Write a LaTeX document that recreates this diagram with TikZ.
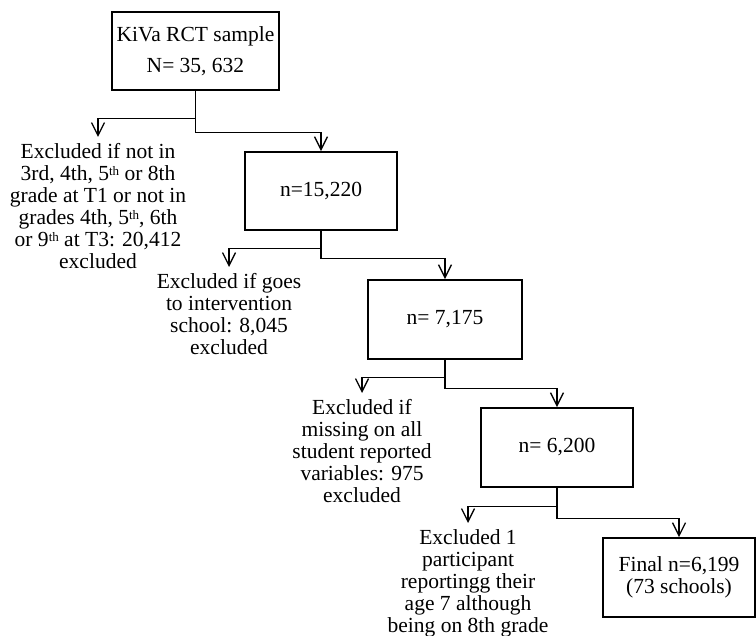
\documentclass[tikz,border=0pt]{standalone}
\usepackage{fontspec}
\setmainfont{Liberation Serif}
\usepackage{tikz}
\usetikzlibrary{arrows.meta,positioning}
\newcommand{\ordsup}[1]{\raisebox{0.5ex}{\fontsize{13}{13}\selectfont #1}}

\begin{document}
\begin{tikzpicture}[
    x=1pt, y=-1pt,
    every node/.style={font=\fontsize{21.5}{22}\selectfont},
    box/.style={draw=black, line width=1.7pt, minimum width=152pt, minimum height=78pt, align=center},
    excl/.style={anchor=north, align=center, inner xsep=0pt, inner ysep=6pt},
    line/.style={draw=black, line width=1.3pt, -{Straight Barb[length=13pt, width=13pt]}}
  ]
    \useasboundingbox (0,0) rectangle (756,636);

    % Nodes
    \node[box, minimum width=167pt] (sample) at (195.5,51) {KiVa RCT sample\\[9pt]N= 35, 632};
    \node[box] (n1) at (321,191) {n=15,220};
    \node[box, minimum width=154pt, minimum height=79pt] (n2) at (445,319.5) {n= 7,175};
    \node[box, minimum height=79pt] (n3) at (557,447.5) {n= 6,200};
    \node[box, minimum height=79pt] (final) at (679,577.5) {Final n=6,199\\(73 schools)};

    \node[excl] (ex1) at (98,137) {Excluded if not in\\3rd, 4th, 5\ordsup{th} or 8th\\grade at T1 or not in\\grades 4th, 5\ordsup{th}, 6th\\or 9\ordsup{th} at T3: 20,412\\excluded};
    \node[excl] (ex2) at (229,267) {Excluded if goes\\to intervention\\school: 8,045\\excluded};
    \node[excl] (ex3) at (362,393) {Excluded if\\missing on all\\student reported\\variables: 975\\excluded};
    \node[excl] (ex4) at (468,523) {Excluded 1\\participant\\reportingg their\\age 7 although\\being on 8th grade};

    % Edges
    \draw[line] (sample.south) -- ++(0,28) -| (ex1.north);
    \draw[line] (sample.south) -- ++(0,42) -| (n1.north);
    \draw[line] (n1.south) -- ++(0,18) -| (ex2.north);
    \draw[line] (n1.south) -- ++(0,28) -| (n2.north);
    \draw[line] (n2.south) -- ++(0,18) -| (ex3.north);
    \draw[line] (n2.south) -- ++(0,29) -| (n3.north);
    \draw[line] (n3.south) -- ++(0,19) -| (ex4.north);
    \draw[line] (n3.south) -- ++(0,31) -| (final.north);
  \end{tikzpicture}
\end{document}
